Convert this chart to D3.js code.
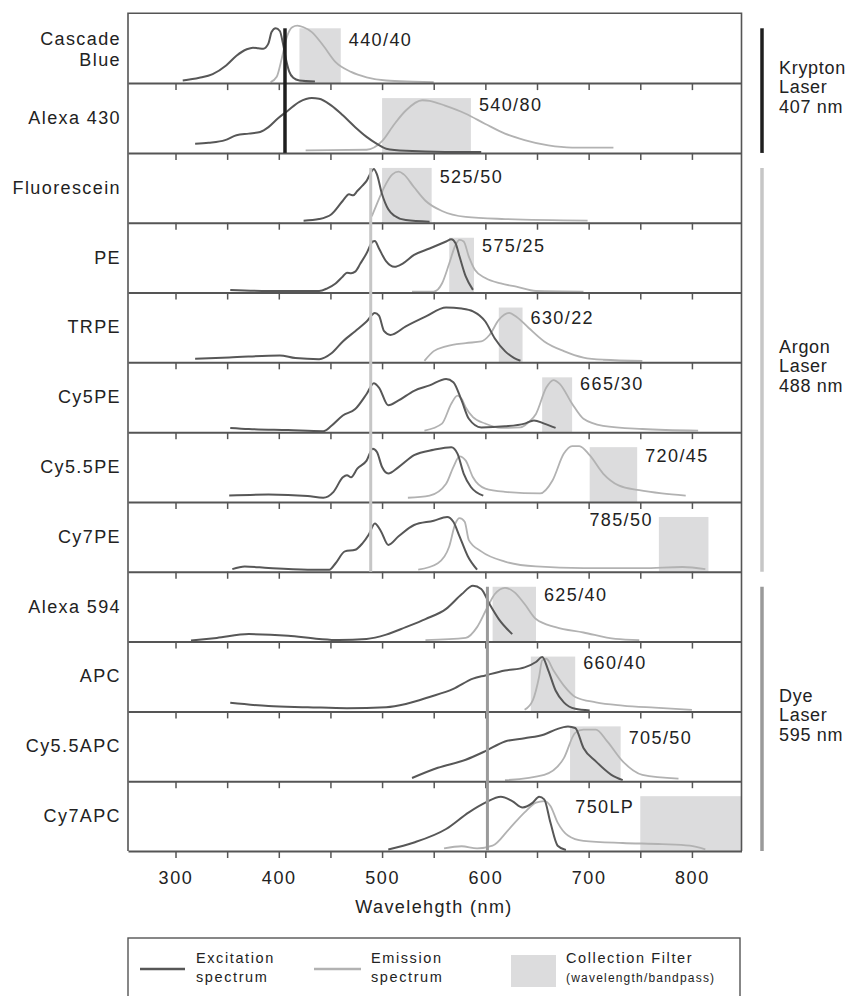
<!DOCTYPE html>
<html>
<head>
<meta charset="utf-8">
<script src="https://cdn.jsdelivr.net/npm/d3@7"></script>
<style>
  body { margin: 0; background: #fff; }
  svg { display: block; font-family: "Liberation Sans", Arial, sans-serif; }
</style>
</head>
<body>
<div id="chart"></div>
<script>
// ---- data ----
const dyeLabels = [["Cascade", "Blue"], ["Alexa 430"], ["Fluorescein"], ["PE"], ["TRPE"], ["Cy5PE"],
                   ["Cy5.5PE"], ["Cy7PE"], ["Alexa 594"], ["APC"], ["Cy5.5APC"], ["Cy7APC"]];

const filterLabels = ["440/40", "540/80", "525/50", "575/25", "630/22", "665/30",
                      "720/45", "785/50", "625/40", "660/40", "705/50", "750LP"];
const filterLo = [420, 500, 500, 565, 613, 655, 701, 768, 607, 644, 682, 750];
const filterHi = [460, 586, 548, 589, 636, 684, 747, 816, 649, 687, 731, 848];

// excitation spectra, [wavelength nm, relative intensity]
const excitation = [
  [[307,0.03],[323,0.08],[336,0.15],[349,0.31],[359,0.49],[369,0.61],[375,0.64],[380,0.63],[385,0.62],[390,0.72],[393,0.93],[397,1.0],[401,0.95],[404,0.72],[407,0.42],[410,0.2],[414,0.08],[420,0.03],[435,0.01]],
  [[319,0.15],[332,0.17],[348,0.22],[359,0.31],[371,0.34],[382,0.37],[390,0.46],[399,0.62],[409,0.77],[420,0.93],[432,1.0],[439,0.99],[451,0.86],[462,0.68],[474,0.46],[485,0.28],[495,0.15],[504,0.06],[523,0.02],[561,0],[596,0]],
  [[424,0.02],[439,0.05],[451,0.14],[462,0.39],[468,0.51],[472,0.49],[476,0.57],[481,0.67],[485,0.76],[490,0.94],[492,0.98],[495,0.88],[500,0.51],[506,0.23],[512,0.11],[523,0.03],[546,0]],
  [[353,0.03],[390,0.01],[439,0.01],[447,0.06],[455,0.15],[462,0.28],[466,0.35],[470,0.34],[474,0.37],[479,0.52],[485,0.71],[491,0.93],[493,0.94],[497,0.8],[504,0.56],[512,0.46],[520,0.52],[531,0.68],[546,0.8],[562,0.93],[567,0.97],[571,0.9],[575,0.65],[581,0.28],[588,0.03]],
  [[319,0.05],[352,0.07],[401,0.11],[416,0.06],[439,0.04],[451,0.15],[462,0.37],[474,0.56],[485,0.74],[493,0.9],[497,0.85],[502,0.56],[508,0.49],[523,0.65],[542,0.83],[562,1.0],[577,0.98],[588,0.93],[600,0.74],[609,0.43],[619,0.19],[628,0.06],[634,0.01]],
  [[353,0.06],[371,0.04],[409,0.02],[443,0],[451,0.1],[462,0.29],[474,0.41],[485,0.69],[492,0.89],[497,0.81],[506,0.48],[516,0.57],[531,0.75],[546,0.85],[562,0.97],[569,0.91],[577,0.57],[584,0.23],[596,0.07],[619,0.09],[638,0.14],[647,0.2],[657,0.14],[668,0.06]],
  [[352,0.1],[390,0.12],[428,0.09],[443,0.06],[453,0.17],[462,0.44],[466,0.48],[470,0.44],[476,0.6],[485,0.75],[491,0.97],[495,0.91],[500,0.63],[506,0.51],[516,0.63],[531,0.85],[550,0.95],[567,1.0],[573,0.88],[579,0.51],[586,0.26],[598,0.1]],
  [[355,0.03],[367,0.08],[390,0.05],[428,0.02],[449,0.02],[455,0.14],[464,0.36],[474,0.39],[481,0.51],[487,0.67],[493,0.88],[499,0.73],[506,0.48],[516,0.64],[531,0.85],[550,0.93],[563,1.0],[569,0.91],[575,0.64],[583,0.27],[592,0.02]],
  [[315,0],[340,0.05],[371,0.12],[409,0.09],[439,0.03],[458,0.01],[485,0.03],[504,0.11],[523,0.25],[542,0.4],[562,0.59],[577,0.86],[588,1.02],[596,0.96],[604,0.68],[613,0.4],[626,0.12]],
  [[353,0.14],[390,0.08],[428,0.06],[466,0.04],[504,0.06],[523,0.12],[546,0.25],[569,0.4],[588,0.59],[600,0.65],[619,0.74],[638,0.8],[649,0.9],[655,0.99],[661,0.74],[668,0.37],[676,0.15],[687,0.03],[701,0]],
  [[529,0.04],[554,0.23],[581,0.38],[600,0.54],[619,0.72],[638,0.78],[657,0.85],[668,0.94],[680,1.0],[687,0.97],[695,0.6],[707,0.35],[722,0.1],[733,0]],
  [[506,0.01],[531,0.14],[562,0.39],[584,0.7],[600,0.88],[615,0.99],[626,0.91],[636,0.79],[646,0.88],[652,0.99],[657,0.94],[663,0.51],[670,0.08],[678,0]]
];

// emission spectra, [wavelength nm, relative intensity]
const emission = [
  [[392,0],[398,0.1],[403,0.45],[408,0.85],[413,1.02],[418,1.05],[424,1.02],[432,0.93],[443,0.68],[455,0.37],[470,0.19],[485,0.09],[504,0.03],[530,0.01],[550,0]],
  [[426,0.03],[485,0.04],[500,0.2],[512,0.52],[523,0.77],[539,0.96],[546,0.95],[561,0.86],[581,0.71],[600,0.52],[619,0.34],[638,0.22],[661,0.12],[684,0.08],[724,0.08]],
  [[490,0.1],[495,0.33],[502,0.64],[510,0.88],[516,0.93],[521,0.88],[531,0.64],[542,0.39],[558,0.2],[581,0.09],[619,0.05],[699,0.02]],
  [[529,0],[550,0],[558,0.15],[565,0.52],[571,0.86],[575,0.96],[579,0.93],[584,0.65],[590,0.4],[600,0.25],[615,0.15],[630,0.09],[649,0.01],[695,0]],
  [[541,0.01],[550,0.19],[562,0.28],[581,0.34],[596,0.37],[604,0.49],[613,0.77],[623,0.9],[630,0.83],[642,0.62],[657,0.37],[676,0.19],[695,0.07],[714,0.03],[752,0.01]],
  [[541,0.01],[558,0.14],[567,0.51],[573,0.66],[577,0.6],[581,0.44],[588,0.26],[600,0.14],[615,0.06],[634,0.07],[642,0.17],[649,0.32],[659,0.81],[666,0.95],[672,0.88],[684,0.51],[695,0.23],[714,0.1],[752,0.04],[806,0.01]],
  [[525,0.06],[546,0.1],[562,0.32],[569,0.63],[575,0.83],[581,0.75],[588,0.44],[600,0.23],[619,0.17],[653,0.14],[665,0.38],[676,0.88],[684,1.02],[691,1.02],[701,0.85],[714,0.51],[729,0.29],[749,0.2],[771,0.14],[794,0.1]],
  [[535,0.02],[554,0.14],[565,0.45],[571,0.88],[575,0.98],[580,0.91],[584,0.57],[596,0.36],[619,0.17],[649,0.08],[695,0.05],[752,0.05],[791,0.07],[813,0.03]],
  [[542,0.01],[581,0.05],[592,0.25],[602,0.62],[609,0.86],[619,0.98],[628,0.9],[638,0.68],[649,0.4],[668,0.25],[695,0.15],[726,0.03],[749,0.01]],
  [[638,0.01],[646,0.19],[652,0.62],[655,0.93],[659,0.96],[666,0.74],[676,0.46],[687,0.25],[707,0.15],[733,0.09],[764,0.05],[800,0.01]],
  [[619,0],[657,0.1],[676,0.41],[687,0.88],[695,0.94],[707,0.94],[718,0.72],[733,0.35],[752,0.1],[787,0.03]],
  [[560,0.03],[577,0.07],[592,0.03],[607,0.08],[623,0.39],[638,0.7],[649,0.88],[657,0.91],[663,0.82],[670,0.51],[680,0.27],[695,0.17],[733,0.13],[771,0.11],[798,0.08],[813,0.01]]
];

// lasers: name, nominal line, where the line is drawn, first/last panel it crosses
const laserNames = ["Krypton", "Argon", "Dye"];
const laserNm = [407, 488, 595];
const laserDrawnAt = [406, 489, 602];
const laserFirst = [0, 2, 8];
const laserLast = [1, 7, 11];

const xTicks = d3.range(300, 801, 50);

// ---- layout ----
const width = 849, height = 996;
const laserColor = ["#1e1e1e", "#c6c6c6", "#9a9a9a"];
const exColor = "#575757", emColor = "#b2b2b2", filterColor = "#dcdcdd", frameColor = "#555";
const labelDy = [33, 28, 30, 29, 31, 28, 30, 24, 29, 27, 33, 32];  // filter label baseline below panel top

let svg = d3.select("#chart")
    .append("svg")
    .attr("width", width)
    .attr("height", height);

let x = d3.scaleLinear()
    .domain([254, 848])
    .range([128, 741.5]);

let panel = d3.scaleBand()
    .domain(d3.range(dyeLabels.length))
    .range([13.3, 851]);

const bw = panel.bandwidth();

let yv = d3.scaleLinear()
    .domain([0, 1])
    .range([bw - 1, 15]);

let line = d3.line()
    .x(d => x(d[0]))
    .y(d => yv(d[1]))
    .curve(d3.curveMonotoneX);

// panels
let p = svg.selectAll(".panel")
    .data(dyeLabels)
    .join("g")
    .attr("class", "panel")
    .attr("transform", (d, i) => `translate(0, ${panel(i)})`);

p.append("rect")
    .attr("fill", filterColor)
    .attr("x", (d, i) => x(filterLo[i]))
    .attr("width", (d, i) => x(filterHi[i]) - x(filterLo[i]))
    .attr("y", yv(1))
    .attr("height", bw - yv(1));

p.append("path")
    .attr("d", (d, i) => line(emission[i]))
    .attr("fill", "none")
    .attr("stroke", emColor)
    .attr("stroke-width", 1.8);

p.append("path")
    .attr("d", (d, i) => line(excitation[i]))
    .attr("fill", "none")
    .attr("stroke", exColor)
    .attr("stroke-width", 2);

// filter labels (left of the box for the two far-red ones)
p.append("text")
    .text((d, i) => filterLabels[i])
    .attr("x", (d, i) => (i === 7 || i === 11) ? x(filterLo[i]) - 6 : x(filterHi[i]) + 8)
    .attr("y", (d, i) => labelDy[i])
    .attr("text-anchor", (d, i) => (i === 7 || i === 11) ? "end" : "start")
    .attr("font-size", 18)
    .attr("letter-spacing", 1.4)
    .attr("fill", "#222");

// dye names
p.append("text")
    .attr("text-anchor", "end")
    .attr("font-size", 18)
    .attr("letter-spacing", 1.4)
    .attr("fill", "#222")
    .selectAll("tspan")
    .data(d => d.map((t, k) => ({ t, k, n: d.length })))
    .join("tspan")
    .attr("x", 121)
    .attr("y", d => d.n === 1 ? bw / 2 + 6 : bw / 2 - 3.5 + d.k * 21)
    .text(d => d.t);

// axis at the bottom of every panel
p.each(function (d, i) {
    const last = i === dyeLabels.length - 1;
    let ax = d3.select(this).append("g")
        .attr("transform", `translate(0, ${bw})`)
        .call(d3.axisBottom(x)
            .tickValues(xTicks)
            .tickSize(7)
            .tickSizeOuter(0)
            .tickPadding(13)
            .tickFormat(v => (last && v % 100 === 0) ? v : ""));
    ax.select(".domain").attr("stroke", frameColor).attr("stroke-width", 2);
    ax.selectAll(".tick line").attr("stroke", frameColor).attr("stroke-width", 1.5);
    ax.selectAll(".tick text")
        .attr("font-size", 18)
        .attr("letter-spacing", 1.6)
        .attr("fill", "#222")
        .attr("font-family", "Liberation Sans, Arial, sans-serif");
});

// outer frame sides and top
svg.append("path")
    .attr("d", `M${x(254)},${panel(dyeLabels.length - 1) + bw}V${panel(0)}H${x(848)}V${panel(dyeLabels.length - 1) + bw}`)
    .attr("fill", "none")
    .attr("stroke", frameColor)
    .attr("stroke-width", 1.6);

// laser lines through the panels + side bars with labels
laserNames.forEach((name, i) => {
    const y1 = panel(laserFirst[i]) + yv(1);
    const y2 = panel(laserLast[i]) + bw;
    svg.append("line")
        .attr("x1", x(laserDrawnAt[i])).attr("x2", x(laserDrawnAt[i]))
        .attr("y1", y1).attr("y2", y2)
        .attr("stroke", laserColor[i])
        .attr("stroke-width", i === 0 ? 3.5 : 3);
    svg.append("line")
        .attr("x1", 762).attr("x2", 762)
        .attr("y1", y1).attr("y2", y2)
        .attr("stroke", laserColor[i])
        .attr("stroke-width", 3.5);
    const mid = (y1 + y2) / 2 + 2.5;
    svg.append("text")
        .attr("font-size", 18)
        .attr("letter-spacing", 0.7)
        .attr("fill", "#222")
        .selectAll("tspan")
        .data([name, "Laser", laserNm[i] + " nm"])
        .join("tspan")
        .attr("x", 779)
        .attr("y", (t, k) => mid + (k - 1) * 19.5)
        .text(t => t);
});

// axis title (typo kept from the original)
svg.append("text")
    .text("Wavelehgth (nm)")
    .attr("x", 434)
    .attr("y", 913)
    .attr("text-anchor", "middle")
    .attr("font-size", 18)
    .attr("letter-spacing", 1.4)
    .attr("fill", "#222");

// legend
let lg = svg.append("g");
lg.append("rect")
    .attr("x", 128).attr("y", 938)
    .attr("width", 612).attr("height", 80)
    .attr("fill", "none")
    .attr("stroke", frameColor)
    .attr("stroke-width", 1.4);

lg.append("line").attr("x1", 140).attr("x2", 185).attr("y1", 969).attr("y2", 969)
    .attr("stroke", exColor).attr("stroke-width", 2.5);
lg.append("line").attr("x1", 314).attr("x2", 361).attr("y1", 969).attr("y2", 969)
    .attr("stroke", emColor).attr("stroke-width", 2.5);
lg.append("rect").attr("x", 511).attr("y", 955).attr("width", 45).attr("height", 32)
    .attr("fill", filterColor);

const legendText = [
    { x: 196, lines: ["Excitation", "spectrum"], small: false },
    { x: 371, lines: ["Emission", "spectrum"], small: false },
    { x: 566, lines: ["Collection Filter", "(wavelength/bandpass)"], small: true }
];
legendText.forEach(item => {
    lg.append("text")
        .attr("fill", "#222")
        .selectAll("tspan")
        .data(item.lines)
        .join("tspan")
        .attr("x", item.x)
        .attr("y", (t, k) => 963 + k * 19)
        .attr("font-size", (t, k) => (item.small && k === 1) ? 12 : 14.5)
        .attr("letter-spacing", (t, k) => (item.small && k === 1) ? 1.2 : 1.6)
        .text(t => t);
});
</script>
</body>
</html>
